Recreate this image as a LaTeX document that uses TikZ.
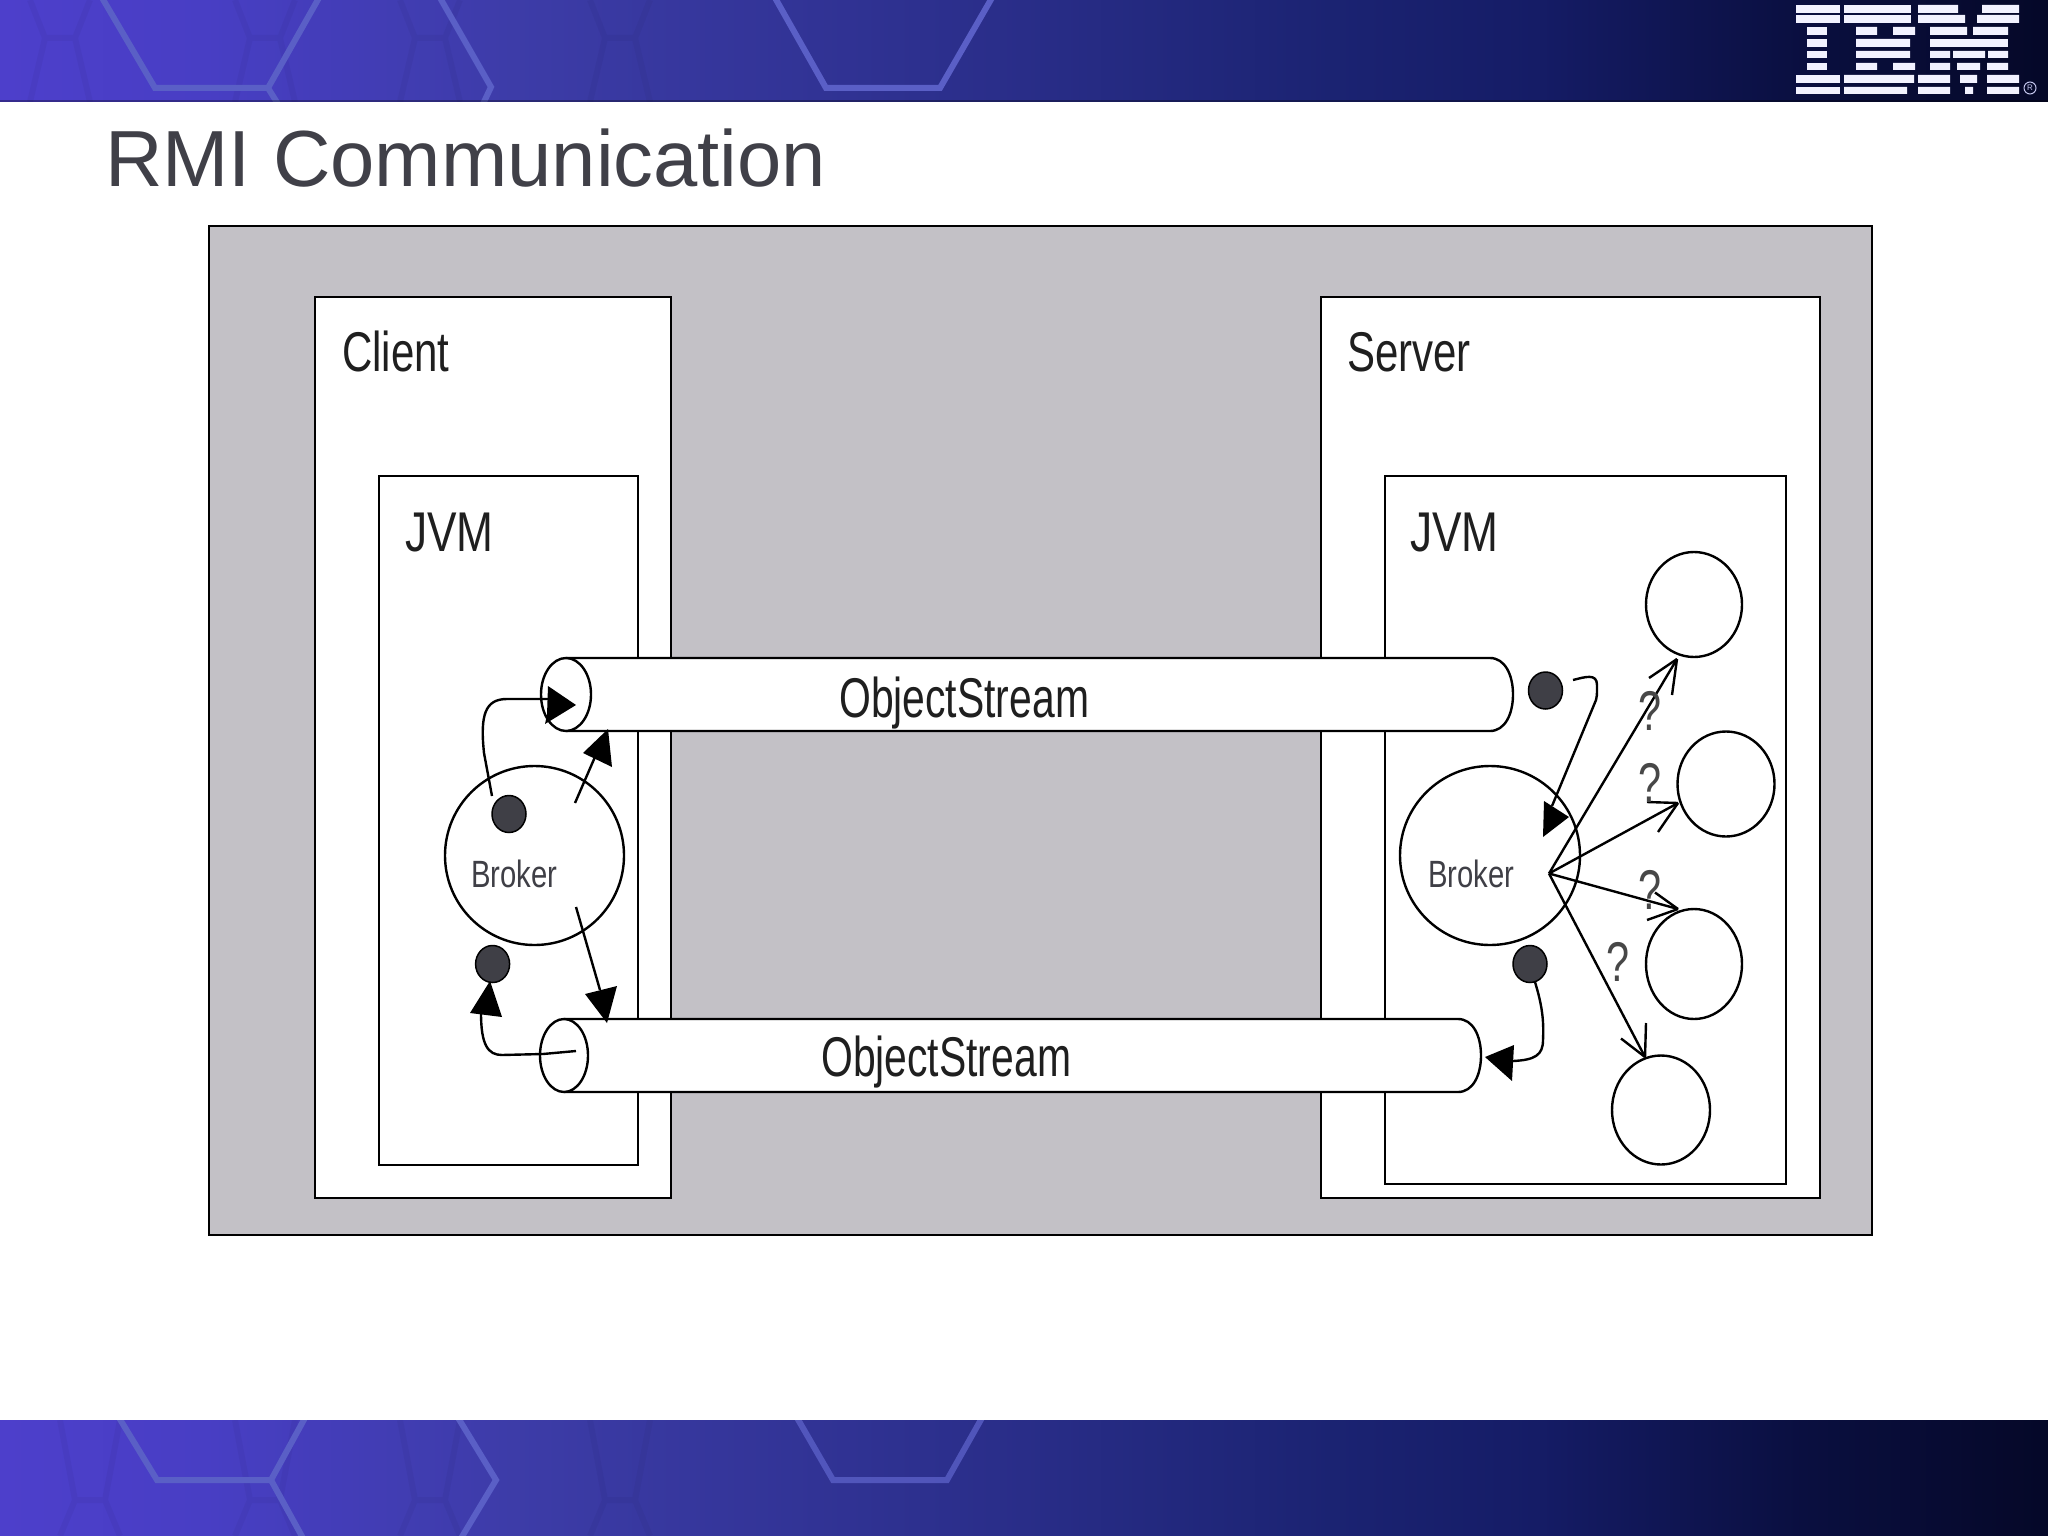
\documentclass[tikz,border=0pt]{standalone}
\usepackage{fontspec}
\usepackage{graphicx}
\setmainfont{Liberation Sans}
\usetikzlibrary{shapes.geometric,calc}
\definecolor{panelgray}{HTML}{C3C1C6}
\definecolor{hexline}{HTML}{5A5FC6}
\definecolor{dotgray}{HTML}{3F3F46}
\definecolor{titlegray}{HTML}{404048}
\definecolor{logowhite}{HTML}{F2F2FF}
\definecolor{c0}{HTML}{4D3FCB}
\definecolor{c1}{HTML}{483EC4}
\definecolor{c2}{HTML}{3D3CA8}
\definecolor{c3}{HTML}{292D88}
\definecolor{c4}{HTML}{1B2372}
\definecolor{c5}{HTML}{151C66}
\definecolor{c6}{HTML}{0A0F40}
\definecolor{c7}{HTML}{050828}
\pgfdeclarehorizontalshading{bannershade}{100bp}{
 color(0bp)=(c0); color(25bp)=(c0); color(30bp)=(c1); color(37.5bp)=(c2); color(50bp)=(c3);
 color(57.5bp)=(c4); color(62.5bp)=(c5); color(69bp)=(c6); color(75bp)=(c7); color(100bp)=(c7)}
\newcommand{\cond}[2]{\scalebox{#1}[1]{#2}}
\tikzset{
  box/.style={draw=black,line width=2.4pt,fill=white},
  lab/.style={anchor=base west,inner sep=0pt,text=black!88},
  biglab/.style={lab,font=\fontsize{56}{60}\selectfont},
  brokerlab/.style={lab,text=dotgray,font=\fontsize{38}{40}\selectfont},
  qlab/.style={lab,text=black!72,font=\fontsize{56}{60}\selectfont},
  circ/.style={ellipse,draw=black,line width=2.4pt,fill=white,inner sep=0pt},
  tokendot/.style={ellipse,draw=black,line width=1.5pt,fill=dotgray,inner sep=0pt,minimum width=34pt,minimum height=37pt},
  conn/.style={draw=black,line width=2.4pt},
  head/.style={fill=black},
  hexl/.style={draw=hexline,line width=6pt,line join=miter},
  hexfaint/.style={draw=black,opacity=.035,line width=6pt},
  logobar/.style={fill=logowhite}
}
\begin{document}
\begin{tikzpicture}[x=1pt,y=-1pt]
\useasboundingbox (0,0) rectangle (2048,1536);
\fill[white] (0,0) rectangle (2048,1536);
% banners
\shade[shading=bannershade] (0,0) rectangle (2048,102);
\shade[shading=bannershade] (0,1420) rectangle (2048,1536);
\begin{scope}
\clip (0,0) rectangle (2048,102);
\foreach \u in {60,265,430,620}
  \draw[hexfaint] (\u-30,0) -- (\u-15,38) -- (\u+15,38) -- (\u+30,0) (\u-15,38) -- (\u-30,102) (\u+15,38) -- (\u+30,102);
\draw[hexl] (101,-4) -- (155,88) -- (268,88) -- (320,-4);
\draw[hexl] (268,88) -- (278,104);
\draw[hexl] (439,-4) -- (491,87) -- (483,104);
\draw[hexl] (774,-4) -- (826,88) -- (940,88) -- (993,-4);
\fill[black,opacity=.3] (0,100.5) rectangle (2048,102);
\end{scope}
\begin{scope}
\clip (0,1420) rectangle (2048,1536);
\foreach \u in {90,265,430,620}
  \draw[hexfaint] (\u-30,1420) -- (\u-15,1500) -- (\u+15,1500) -- (\u+30,1420) (\u-15,1500) -- (\u-30,1536) (\u+15,1500) -- (\u+30,1536);
\draw[hexl] (118,1416) -- (157,1480) -- (271,1480) -- (306,1416);
\draw[hexl] (271,1480) -- (304,1540);
\draw[hexl] (457,1416) -- (496,1480) -- (460,1540);
\draw[hexl,opacity=.8] (796,1416) -- (833,1480) -- (947,1480) -- (983,1416);
\end{scope}
% logo
\foreach \a/\b in {5/13,15/23}{
  \fill[logobar] (1796,\a) rectangle (1840,\b);
  \fill[logobar] (1844,\a) rectangle (1911,\b);}
\foreach \a/\b in {27/35,39/47,51/58,63/70}
  \fill[logobar] (1807,\a) rectangle (1827,\b);
\foreach \a/\b in {75/83,87/94}{
  \fill[logobar] (1796,\a) rectangle (1840,\b);}
\fill[logobar] (1856,27) rectangle (1877,35) (1893,27) rectangle (1915,35);
\fill[logobar] (1856,39) rectangle (1910,47) (1856,51) rectangle (1910,58);
\fill[logobar] (1856,63) rectangle (1877,70) (1893,63) rectangle (1915,70);
\fill[logobar] (1844,75) rectangle (1914,83) (1844,87) rectangle (1907,94);
\fill[logobar] (1918,5) rectangle (1958,13) (1982,5) rectangle (2019,13);
\fill[logobar] (1918,15) rectangle (1965,23) (1977,15) rectangle (2019,23);
\fill[logobar] (1930,27) rectangle (1967,35) (1973,27) rectangle (2008,35);
\fill[logobar] (1930,39) rectangle (2008,47);
\fill[logobar] (1930,51) rectangle (1950,58) (1953,51) rectangle (1985,58) (1988,51) rectangle (2008,58);
\fill[logobar] (1930,63) rectangle (1950,70) (1957,63) rectangle (1980,70) (1987,63) rectangle (2008,70);
\fill[logobar] (1918,75) rectangle (1950,83) (1960,75) rectangle (1977,83) (1987,75) rectangle (2019,83);
\fill[logobar] (1918,87) rectangle (1950,94) (1965,87) rectangle (1973,94) (1987,87) rectangle (2019,94);
\node[circle,draw=logowhite!70!hexline,line width=1pt,text=logowhite!70!hexline,inner sep=0pt,minimum size=12pt,font=\fontsize{8}{8}\selectfont] (reg) at (2030,88) {R};
% title
\node[anchor=base west,inner sep=0pt,text=titlegray,font=\fontsize{79.6}{80}\selectfont] (title) at (105,186) {RMI Communication};
% panel
\node[draw=black,line width=2pt,fill=panelgray,inner sep=0pt,minimum width=1663pt,minimum height=1009pt,anchor=north west] (panel) at (207.5,224.5) {};
\node[box,inner sep=0pt,minimum width=356pt,minimum height=901pt,anchor=north west] (client) at (313.5,295.5) {};
\node[box,inner sep=0pt,minimum width=499.5pt,minimum height=901pt,anchor=north west] (server) at (1319.5,295.5) {};
\node[box,inner sep=0pt,minimum width=259pt,minimum height=688.5pt,anchor=north west] (cjvm) at (377.5,475) {};
\node[box,inner sep=0pt,minimum width=400.5pt,minimum height=707.5pt,anchor=north west] (sjvm) at (1384,475) {};
\node[biglab] (clientlab) at (342,371) {\cond{.75}{Client}};
\node[biglab] (serverlab) at (1347,371) {\cond{.75}{Server}};
\node[biglab] (cjvmlab) at (405,551) {\cond{.79}{JVM}};
\node[biglab] (sjvmlab) at (1410,551) {\cond{.79}{JVM}};
% tubes
\draw[box] (566,658) -- (1490,658) .. controls (1505,658) and (1513,675) .. (1513,694.5) .. controls (1513,714) and (1505,731) .. (1490,731) -- (566,731);
\draw[box] (564,1019) -- (1458,1019) .. controls (1473,1019) and (1481,1036) .. (1481,1055.5) .. controls (1481,1075) and (1473,1092) .. (1458,1092) -- (564,1092);
\node[circ,minimum width=50pt,minimum height=73pt] (t1) at (566,694.5) {};
\node[circ,minimum width=48pt,minimum height=73pt] (t2) at (564,1055.5) {};
\node[biglab] (os1) at (839,717) {\cond{.73}{ObjectStream}};
\node[biglab] (os2) at (821,1076) {\cond{.73}{ObjectStream}};
% brokers
\node[circ,minimum width=179pt,minimum height=179pt] (bc) at (534.5,855.5) {};
\node[circ,minimum width=180pt,minimum height=179pt] (bs) at (1490,855.5) {};
\node[brokerlab] (bclab) at (471,887) {\cond{.77}{Broker}};
\node[brokerlab] (bslab) at (1428,887) {\cond{.77}{Broker}};
% target objects
\node[circ,minimum width=96pt,minimum height=105pt] (o1) at (1694,604.5) {};
\node[circ,minimum width=97pt,minimum height=105pt] (o2) at (1726,784) {};
\node[circ,minimum width=96pt,minimum height=110pt] (o3) at (1694,964) {};
\node[circ,minimum width=98pt,minimum height=109pt] (o4) at (1661,1110) {};
% tokens
\node[tokendot] (d1) at (509,814) {};
\node[tokendot] (d2) at (492.6,964) {};
\node[tokendot] (d3) at (1545.5,690.5) {};
\node[tokendot] (d4) at (1530,964) {};
% client connectors
\coordinate (a1s) at (492,796);
\coordinate (a1e) at (550,699);
\draw[conn] (a1s) -- (484,753) .. controls (480,715) and (485,699) .. (507,699) -- (a1e);
\fill[head] (576,705) -- (548,686) -- (547,715) -- (545,724) -- cycle;
\coordinate (a2s) at (575,803);
\coordinate (a2e) at (598,750);
\draw[conn] (a2s) -- (a2e);
\fill[head] (608,729) -- (583,753) -- (612,767) -- cycle;
\coordinate (a3s) at (576,907);
\coordinate (a3e) at (600,990);
\draw[conn] (a3s) -- (a3e);
\fill[head] (607,1023) -- (585,994) -- (617,986) -- cycle;
\coordinate (a4s) at (576,1051);
\coordinate (a4e) at (481,1013);
\draw[conn] (a4s) -- (543,1054) -- (502,1055) .. controls (488,1055) and (481,1045) .. (a4e);
\fill[head] (490,981) -- (470,1013) -- (502,1017) -- cycle;
% server connectors
\coordinate (a5s) at (1573,680);
\coordinate (a5e) at (1552,806);
\draw[conn] (a5s) .. controls (1585,677) and (1597,673) .. (1597,685) .. controls (1597,695) and (1597,697) .. (1596,700) -- (a5e);
\fill[head] (1569,817) -- (1544,801) -- (1543,837) -- cycle;
\coordinate (a6s) at (1535,982);
\coordinate (a6e) at (1513,1061);
\draw[conn] (a6s) .. controls (1542,1005) and (1544,1020) .. (1543,1040) .. controls (1543,1055) and (1535,1060) .. (a6e);
\fill[head] (1485,1057) -- (1514,1045) -- (1512,1081) -- cycle;
% fan of lookups
\coordinate (fan) at (1549,873.5);
\coordinate (p1) at (1677,659);
\coordinate (p2) at (1678,803);
\coordinate (p3) at (1678,909);
\coordinate (p4) at (1645,1057);
\draw[conn] (fan) -- (p1);
\draw[conn] (fan) -- (p2);
\draw[conn] (fan) -- (p3);
\draw[conn] (fan) -- (p4);
\draw[conn] (p1) -- (1649,678); \draw[conn] (p1) -- (1672,695);
\draw[conn] (p2) -- (1647,802); \draw[conn] (p2) -- (1658,832);
\draw[conn] (p3) -- (1655,892.5); \draw[conn] (p3) -- (1647,920);
\draw[conn] (p4) -- (1621,1038.5); \draw[conn] (p4) -- (1646,1023);
\node[qlab] (q1) at (1638,730) {\cond{.74}{?}};
\node[qlab] (q2) at (1638,802) {\cond{.74}{?}};
\node[qlab] (q3) at (1638,909) {\cond{.74}{?}};
\node[qlab] (q4) at (1606,981) {\cond{.74}{?}};
\end{tikzpicture}
\end{document}
